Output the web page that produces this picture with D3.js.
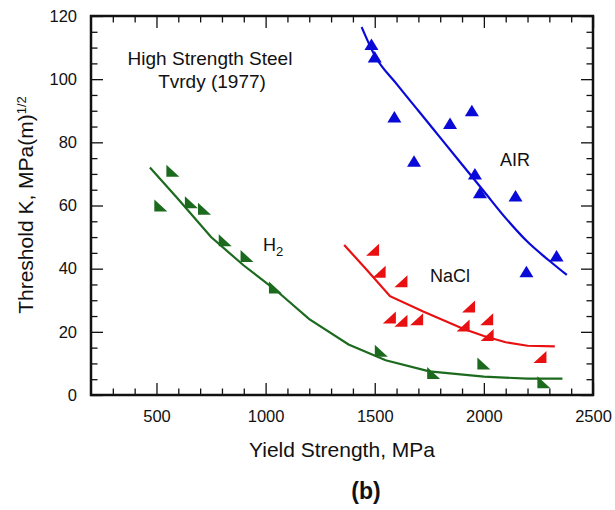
<html>
<head>
<style>
  body { margin: 0; background: #fff; }
  text { font-family: "Liberation Sans", Arial, Helvetica, sans-serif; fill: #111; }
</style>
</head>

<body>
    <div>
        <svg id="chart"></svg>
    </div>

    <script src="https://cdn.jsdelivr.net/npm/d3@7/dist/d3.min.js" charset="utf-8"></script>
    <script type="text/javascript">
        // data (yield strength MPa, threshold K)
        airX = [1485, 1500, 1590, 1680, 1845, 1945, 1959, 1982, 2145, 2195, 2333]
        airY = [111, 107, 88, 74, 86, 90, 70, 64, 63, 39, 44]
        naclX = [1490, 1520, 1620, 1567, 1620, 1692, 1930, 1905, 2013, 2015, 2257]
        naclY = [46, 39, 36, 24.5, 23.5, 24, 28, 22, 24, 19, 12]
        h2X = [520, 575, 660, 720, 815, 915, 1045, 1530, 1770, 2000, 2275]
        h2Y = [60, 71, 61, 59, 49, 44, 34, 14, 7, 10, 4]

        // fitted curves
        airFitX = [1440, 1500, 1600, 1700, 1800, 1900, 2000, 2100, 2200, 2300, 2380]
        airFitY = [116.5, 107.5, 98.5, 90, 81.5, 73, 64.5, 56, 48.5, 42.5, 38]
        naclFitX = [1360, 1465, 1570, 1722, 1905, 2000, 2100, 2200, 2325]
        naclFitY = [47.5, 39.5, 31.3, 26.4, 21, 18.7, 16.7, 15.6, 15.4]
        h2FitX = [470, 600, 750, 900, 1050, 1200, 1380, 1550, 1750, 2000, 2200, 2360]
        h2FitY = [72, 62, 50, 41, 33, 24, 16, 11, 7.5, 5.8, 5.2, 5.2]

        xMajor = [500, 1000, 1500, 2000, 2500]
        yMajor = [0, 20, 40, 60, 80, 100, 120]

        width = 615
        height = 510
        // plot box (note: "top" is taken by window, so use pad names)
        padL = 91, padR = 593, padT = 16, padB = 395

        svg = d3.select('#chart')
                .attr('width', width)
                .attr('height', height)

        x = d3.scaleLinear().domain([200, 2500]).range([padL, padR])
        y = d3.scaleLinear().domain([0, 120]).range([padB, padT])

        xMinor = d3.range(300, 2500, 100).filter(function(v) { return v % 500 != 0 })
        yMinor = d3.range(5, 120, 5).filter(function(v) { return v % 20 != 0 })

        // ticks on all four sides, pointing inward
        function ticks(axisFn, scale, major, minor, tx, ty, labels) {
            var g = svg.append('g').attr('transform', 'translate(' + tx + ',' + ty + ')')
            g.call(axisFn(scale).tickValues(minor).tickFormat('').tickSize(-6.5))
            var g2 = svg.append('g').attr('transform', 'translate(' + tx + ',' + ty + ')')
            var a = axisFn(scale).tickValues(major).tickSize(-12)
            if (labels) a.tickPadding(labels).tickFormat(d3.format('d'))
            else a.tickFormat('')
            g2.call(a)
            svg.selectAll('.domain').remove()
            return g2
        }
        ticks(d3.axisBottom, x, xMajor, xMinor, 0, padB, 15)
        ticks(d3.axisTop, x, xMajor, xMinor, 0, padT, 0)
        ticks(d3.axisLeft, y, yMajor, yMinor, padL, 0, 14)
        ticks(d3.axisRight, y, yMajor, yMinor, padR, 0, 0)

        svg.selectAll('.tick line').attr('stroke', '#111').attr('stroke-width', 1.3)
        svg.selectAll('.tick text').style('font-size', '16.5px').attr('fill', '#111')
            .style('font-family', '"Liberation Sans", Arial, sans-serif')

        // frame
        svg.append('rect')
            .attr('x', padL).attr('y', padT)
            .attr('width', padR - padL).attr('height', padB - padT)
            .attr('fill', 'none').attr('stroke', '#111').attr('stroke-width', 2.5)

        series = [
            { xs: airX, ys: airY, fx: airFitX, fy: airFitY, color: '#0a0ad8', curve: d3.curveMonotoneX,
              shape: [[0, -6], [7, 5.5], [-7, 5.5]] },
            { xs: naclX, ys: naclY, fx: naclFitX, fy: naclFitY, color: '#e81010', curve: d3.curveLinear,
              shape: [[6.5, -6], [6.5, 6], [-6.5, 6]] },
            { xs: h2X, ys: h2Y, fx: h2FitX, fy: h2FitY, color: '#1c6a1e', curve: d3.curveLinear,
              shape: [[-6.5, -6], [-6.5, 6], [6.5, 6]] }
        ]

        series.forEach(function(s) {
            var line = d3.line().curve(s.curve)
                .x(function(d) { return x(d[0]) })
                .y(function(d) { return y(d[1]) })

            svg.append('path')
                .datum(d3.zip(s.fx, s.fy))
                .attr('d', line)
                .attr('fill', 'none')
                .attr('stroke', s.color)
                .attr('stroke-width', 2.2)

            svg.selectAll(null)
                .data(d3.zip(s.xs, s.ys))
                .enter()
                .append('path')
                .attr('d', 'M' + s.shape.join('L') + 'Z')
                .attr('transform', function(d) { return 'translate(' + x(d[0]) + ',' + y(d[1]) + ')' })
                .attr('fill', s.color)
        })

        // annotations
        svg.append('text').attr('x', 210).attr('y', 65).attr('text-anchor', 'middle')
            .style('font-size', '19px').text('High Strength Steel')
        svg.append('text').attr('x', 212).attr('y', 88).attr('text-anchor', 'middle')
            .style('font-size', '19px').text('Tvrdy (1977)')

        svg.append('text').attr('x', 500).attr('y', 166).style('font-size', '18px').text('AIR')
        svg.append('text').attr('x', 430).attr('y', 282).style('font-size', '18px').text('NaCl')
        h2 = svg.append('text').attr('x', 263).attr('y', 251).style('font-size', '18px')
        h2.append('tspan').text('H')
        h2.append('tspan').attr('dy', 5).style('font-size', '13px').text('2')

        // axis titles
        svg.append('text').attr('x', 342).attr('y', 457).attr('text-anchor', 'middle')
            .style('font-size', '21px').text('Yield Strength, MPa')

        yt = svg.append('text').attr('transform', 'translate(33,205) rotate(-90)')
            .attr('text-anchor', 'middle').style('font-size', '21px')
        yt.append('tspan').text('Threshold K, MPa(m)')
        yt.append('tspan').attr('dy', -7).style('font-size', '13px').text('1/2')

        svg.append('text').attr('x', 366).attr('y', 499).attr('text-anchor', 'middle')
            .style('font-size', '23px').style('font-weight', 'bold').text('(b)')
    </script>
</body>
</html>
